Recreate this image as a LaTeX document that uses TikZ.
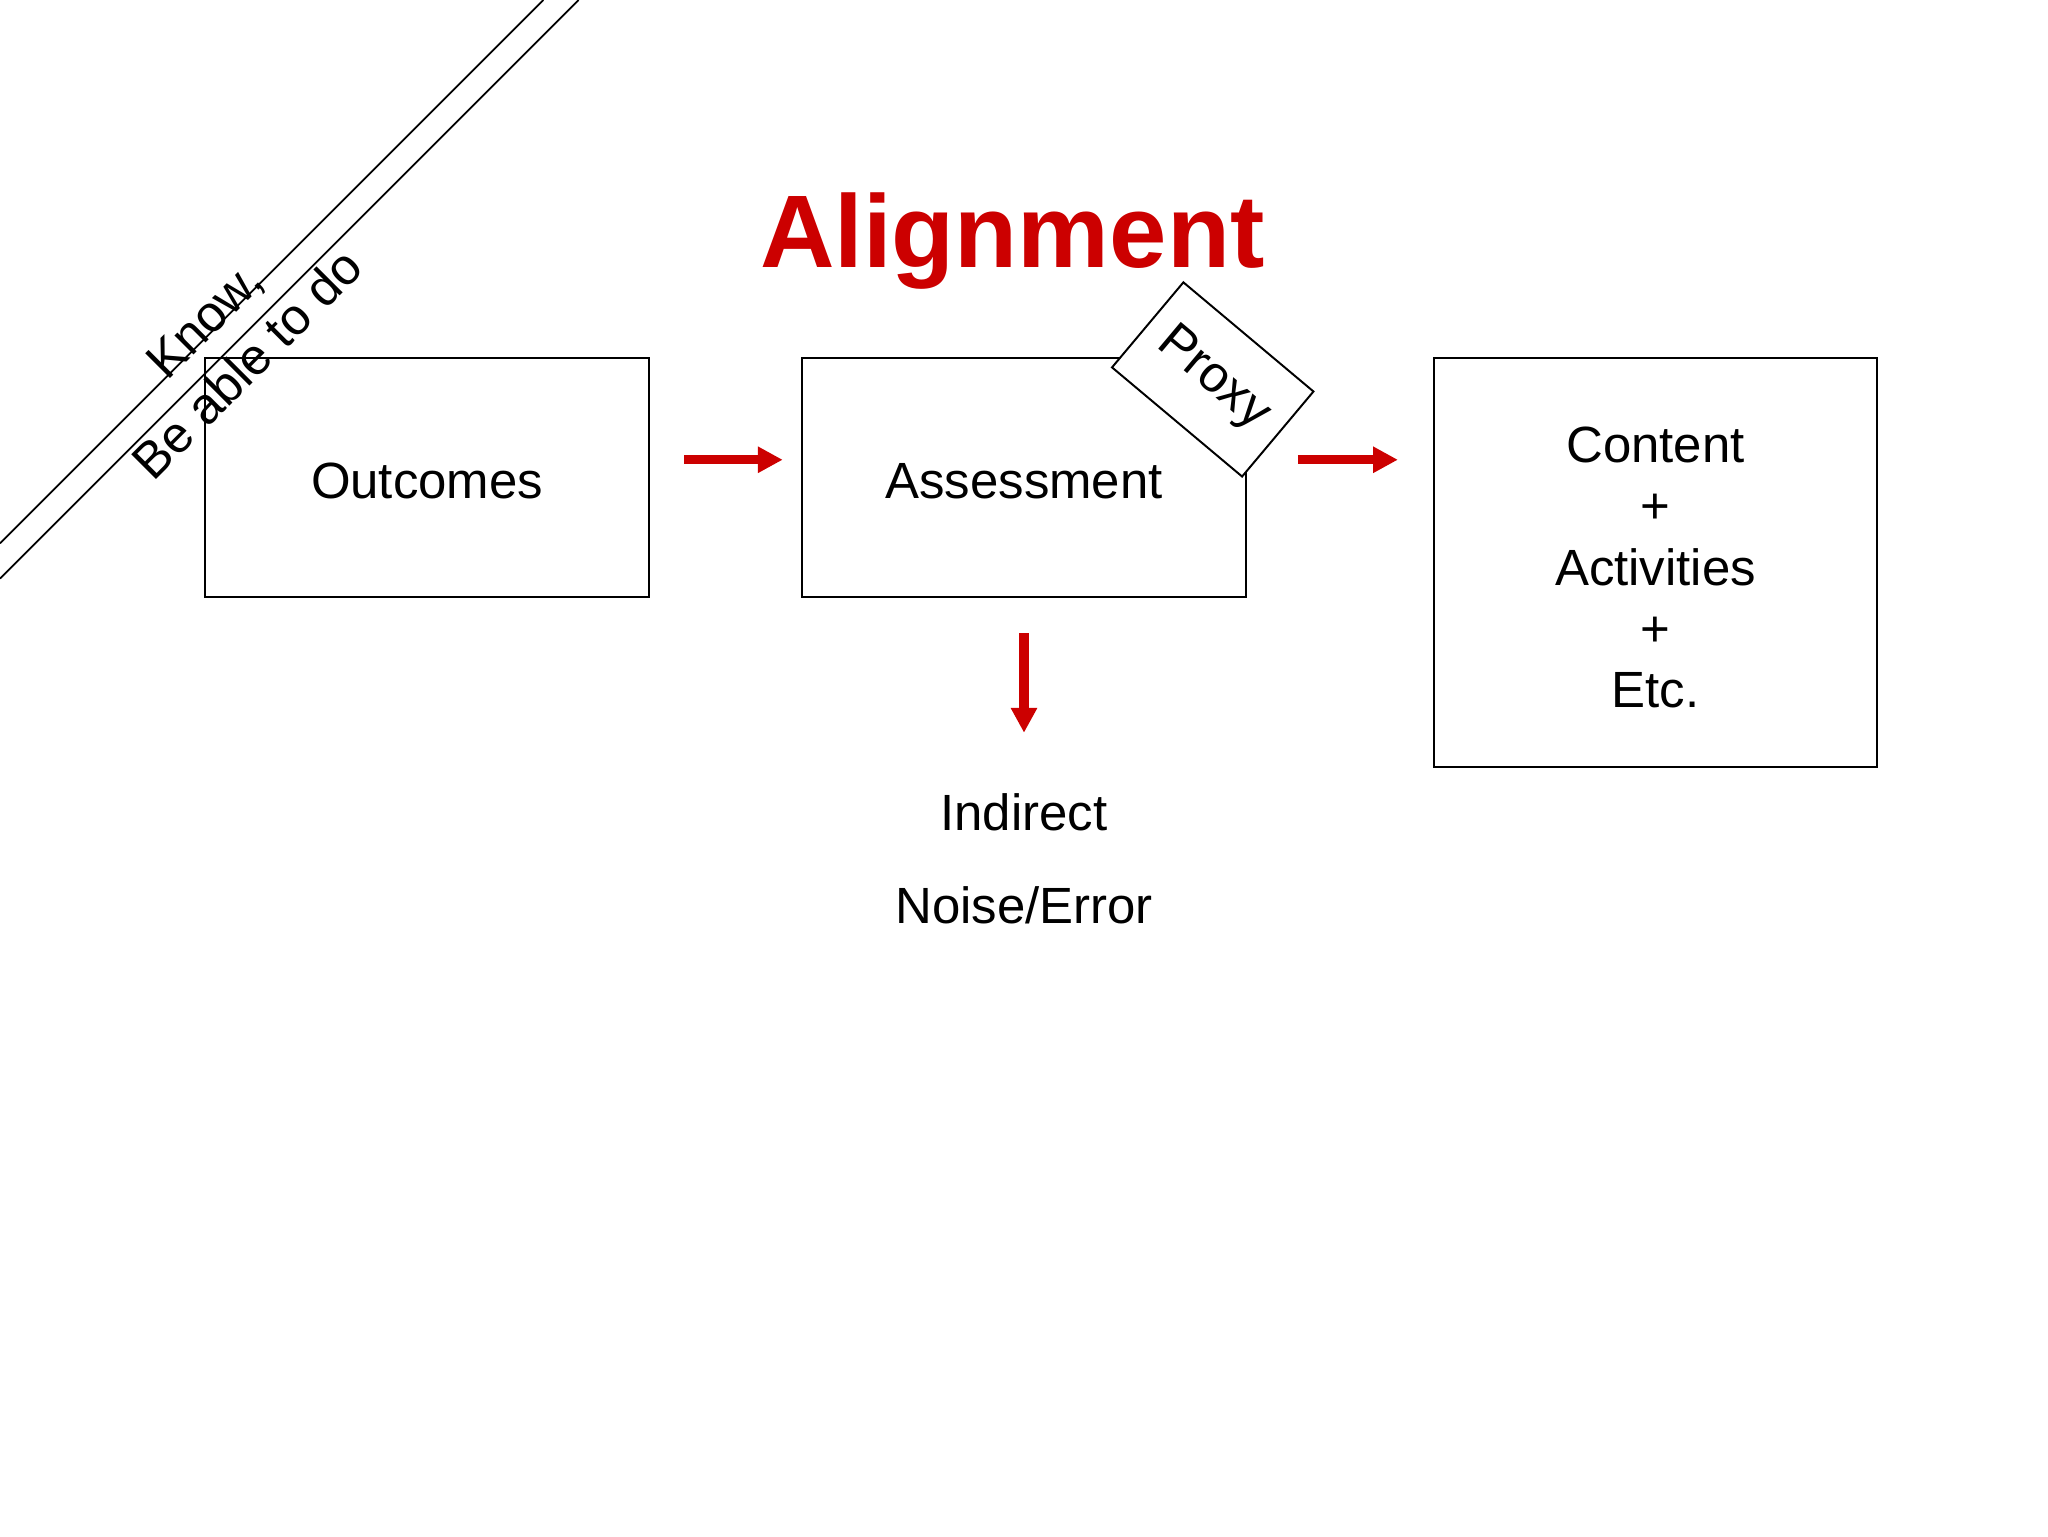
\documentclass[tikz,border=0pt]{standalone}
\usepackage{fontspec}
\setmainfont{Liberation Sans}
\usetikzlibrary{arrows.meta}
\definecolor{alignred}{RGB}{204,0,0}
\tikzset{
  box/.style={draw=black, line width=1.5pt, inner sep=0pt, font=\fontsize{39}{47}\selectfont},
  plain/.style={inner sep=0pt, font=\fontsize{39}{47}\selectfont},
  redarrow/.style={draw=alignred, line width=7pt, -{Triangle[length=19pt,width=19pt]}},
  band/.style={draw=black, line width=1.3pt}
}
\begin{document}
\begin{tikzpicture}[x=1pt,y=-1pt]
\useasboundingbox[fill=white] (0,0) rectangle (1568,1176);
% diagonal band
\coordinate (u1) at (0,416);
\coordinate (u2) at (416,0);
\coordinate (l1) at (0,443);
\coordinate (l2) at (443,0);
\draw[band] (u1) -- (u2);
\draw[band] (l1) -- (l2);
\node[plain, align=center, rotate=45] (kba) at (173,262) {Know,\\Be able to do};
% title
\node[inner sep=0pt, anchor=base, text=alignred, font=\fontsize{79}{90}\selectfont\bfseries] (title) at (775,205) {Alignment};
% boxes
\node[box, minimum width=340pt, minimum height=183pt] (outcomes) at (327,365.5) {\raisebox{-3pt}[\height][\depth]{Outcomes}};
\node[box, minimum width=340pt, minimum height=183pt] (assess) at (784,365.5) {\raisebox{-3pt}[\height][\depth]{Assessment}};
\node[box, minimum width=339pt, minimum height=313pt] (content) at (1267.5,430.5) {\raisebox{-8pt}[\height][\depth]{\begin{tabular}{@{}c@{}}Content\hspace{10pt}\\+\\Activities\\+\\Etc.\end{tabular}}};
\node[box, fill=white, minimum width=130pt, minimum height=85pt, rotate=-40] (proxy) at (928.5,290.5) {Proxy};
% lower texts
\node[plain, anchor=base] (indirect) at (784,636) {Indirect};
\node[plain, anchor=base] (noise) at (784,707) {Noise/Error};
% arrows
\coordinate (a1s) at ([yshift=13.5pt]outcomes.east);
\coordinate (a2s) at ([yshift=13.5pt]assess.east);
\draw[redarrow, shorten <=26pt, shorten >=14pt] (a1s) -- (a1s -| assess.west);
\draw[redarrow, shorten <=39pt, shorten >=27pt] (a2s) -- (a2s -| content.west);
\coordinate (downend) at (784,561);
\draw[redarrow, shorten <=27pt] (assess.south) -- (downend);
\end{tikzpicture}
\end{document}
